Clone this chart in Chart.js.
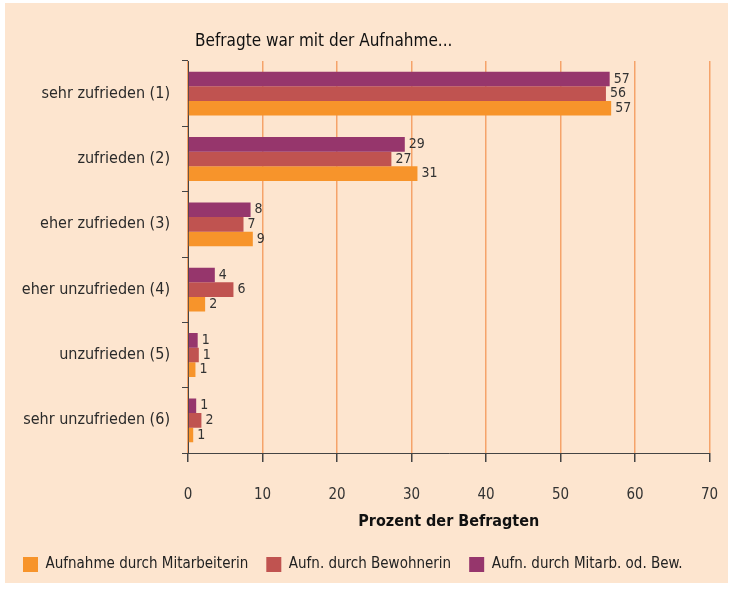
<!DOCTYPE html>
<html><head><meta charset="utf-8">
<script src="https://cdn.jsdelivr.net/npm/chart.js@4/dist/chart.umd.min.js"></script>
<style>html,body{margin:0;padding:0;background:#fff;}#wrap{width:734px;height:592px;position:relative;}</style>
</head><body><div id="wrap"><canvas id="c" width="734" height="592"></canvas></div>
<script>
const categories = ['sehr zufrieden (1)', 'zufrieden (2)', 'eher zufrieden (3)', 'eher unzufrieden (4)', 'unzufrieden (5)', 'sehr unzufrieden (6)'];
const seriesNames = ['Aufn. durch Mitarb. od. Bew.', 'Aufn. durch Bewohnerin', 'Aufnahme durch Mitarbeiterin'];
const mitarbOdBew = [56.6, 29.1, 8.4, 3.6, 1.3, 1.1];
const bewohnerin = [56.1, 27.3, 7.45, 6.1, 1.45, 1.8];
const mitarbeiterin = [56.8, 30.8, 8.7, 2.3, 1.0, 0.7];
const xTicks = [0, 10, 20, 30, 40, 50, 60, 70];
const titleText = 'Befragte war mit der Aufnahme...';
const xTitle = 'Prozent der Befragten';

const FONT = '"DejaVu Sans Condensed", "Liberation Sans Narrow", sans-serif';

const bgPlugin = {
  id: 'bg',
  beforeDraw(chart) {
    const ctx = chart.ctx;
    ctx.save();
    ctx.fillStyle = '#fff';
    ctx.fillRect(0, 0, chart.width, chart.height);
    ctx.fillStyle = '#fde5cf';
    ctx.fillRect(5, 3, 723, 580);
    ctx.restore();
  },
  afterDraw(chart) {
    const ctx = chart.ctx;
    ctx.save();
    ctx.fillStyle = '#111';
    ctx.font = '17px ' + FONT;
    ctx.textBaseline = 'middle';
    ctx.textAlign = 'left';
    ctx.fillText(titleText, 195, 42);
    ctx.restore();
  }
};

const labelPlugin = {
  id: 'vlabels',
  afterDatasetsDraw(chart) {
    const ctx = chart.ctx;
    ctx.save();
    ctx.fillStyle = '#333';
    ctx.font = '14px ' + FONT;
    ctx.textBaseline = 'middle';
    ctx.textAlign = 'left';
    chart.data.datasets.forEach((ds, i) => {
      const meta = chart.getDatasetMeta(i);
      meta.data.forEach((el, j) => {
        ctx.fillText(String(Math.round(ds.data[j])), el.x + 4, el.y);
      });
    });
    ctx.restore();
  }
};

new Chart(document.getElementById('c'), {
  type: 'bar',
  data: {
    labels: categories,
    datasets: [
      { label: seriesNames[0], data: mitarbOdBew, backgroundColor: '#96366c' },
      { label: seriesNames[1], data: bewohnerin, backgroundColor: '#c05350' },
      { label: seriesNames[2], data: mitarbeiterin, backgroundColor: '#f7942b' }
    ]
  },
  options: {
    indexAxis: 'y',
    responsive: false,
    animation: false,
    devicePixelRatio: 1,
    layout: { padding: { top: 61, right: 24.5, bottom: 10, left: 5 } },
    datasets: { bar: { categoryPercentage: 0.67, barPercentage: 1.0 } },
    scales: {
      x: {
        min: 0, max: 70,
        afterBuildTicks: s => { s.ticks = xTicks.map(v => ({ value: v })); },
        afterFit: s => { s.height = 86; },
        grid: { color: '#f5a36a', lineWidth: 1.5, tickColor: '#444', tickLength: 9, drawTicks: true },
        border: { display: true, color: '#444', width: 1 },
        ticks: { color: '#333', font: { family: FONT, size: 15 }, padding: 6, callback: v => ['', String(v)] },
        title: { display: true, text: xTitle, color: '#111', font: { family: FONT, size: 16, weight: 'bold' }, padding: { top: 2, bottom: 8 } }
      },
      y: {
        afterFit: s => { s.width = 183; },
        grid: { drawOnChartArea: false, drawTicks: true, tickLength: 6, color: '#444' },
        border: { display: true, color: '#444', width: 1 },
        ticks: { color: '#2a2a2a', font: { family: FONT, size: 16 }, padding: 12 }
      }
    },
    plugins: {
      legend: {
        position: 'bottom',
        align: 'start',
        reverse: true,
        labels: { color: '#222', font: { family: FONT, size: 15 }, boxWidth: 15, boxHeight: 15, padding: 18 }
      },
      tooltip: { enabled: false },
      title: { display: false }
    }
  },
  plugins: [bgPlugin, labelPlugin]
});
</script></body></html>
